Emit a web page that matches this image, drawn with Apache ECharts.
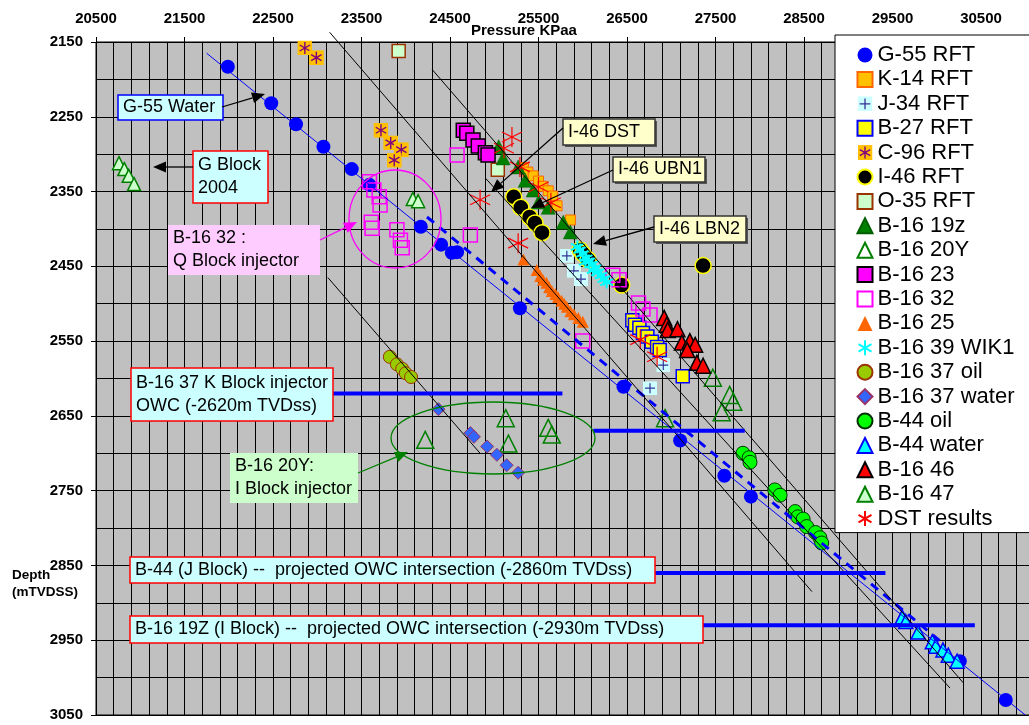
<!DOCTYPE html>
<html>
<head>
<meta charset="utf-8">
<script src="https://cdn.jsdelivr.net/npm/echarts@6/dist/echarts.min.js"></script>
<style>
  html, body { margin: 0; padding: 0; background: #ffffff; }
  #chart { width: 1029px; height: 725px; }
</style>
</head>
<body>
<div id="chart"></div>
<script>
const FONT = '"Liberation Sans", Arial, Helvetica, sans-serif';

// ---- axis tick labels ----
const pressureTickLabels = [20500, 21500, 22500, 23500, 24500, 25500, 26500, 27500, 28500, 29500, 30500];
const depthTickLabels = [2150, 2250, 2350, 2450, 2550, 2650, 2750, 2850, 2950, 3050];

// ---- pressure (KPaa) vs depth (mTVDSS) measurements ----
const g55Rft = [[21990,2183],[22480,2232],[22760,2260],[23070,2290],[23390,2320],[23590,2341],[24170,2397],[24400,2421],[24520,2432],[24580,2431],[25290,2506],[26460,2611],[27100,2683],[27600,2730],[27900,2758],[30260,2978],[30780,3030]];
const k14Rft = [[25330,2318],[25380,2324],[25440,2329],[25500,2336],[25550,2343],[25610,2349],[25660,2356],[25710,2369],[25860,2388]];
const j34Rft = [[25820,2436],[25900,2456],[25980,2467],[26910,2582],[26760,2613]];
const b27Rft = [[26560,2522],[26590,2528],[26640,2532],[26680,2539],[26730,2544],[26780,2551],[26840,2558],[26870,2562],[27130,2597]];
const c96Rft = [[22860,2158],[22990,2171],[23720,2268],[23830,2285],[23950,2294],[23870,2308]];
const i46Rft = [[25220,2357],[25300,2371],[25400,2384],[25460,2392],[25540,2405],[25970,2428],[26000,2433],[26060,2441],[26440,2475],[27360,2449]];
const o35Rft = [[23920,2162],[25040,2321]];
const b16_19z = [[25050,2290],[25100,2305],[25270,2317],[25350,2335],[25440,2348],[25500,2364],[25610,2371],[25780,2391],[25860,2404]];
const b16_20y = [[24220,2682],[25130,2653],[25160,2687],[25610,2666],[25650,2675],[27470,2599],[27660,2622],[27700,2631],[27570,2645],[26930,2653]];
const b16_23 = [[24650,2268],[24690,2272],[24760,2281],[24820,2289],[24900,2298],[24930,2301]];
const b16_32 = [[24580,2301],[23590,2337],[23640,2348],[23700,2357],[23710,2368],[23610,2391],[23620,2399],[23900,2401],[23940,2415],[23960,2425],[24730,2408],[26000,2550],[26340,2462],[26410,2468],[26630,2499],[26680,2507],[26760,2515]];
const b16_25 = [[25330,2441],[25480,2455],[25520,2463],[25550,2468],[25590,2472],[25620,2478],[25650,2483],[25690,2487],[25720,2491],[25760,2496],[25790,2500],[25820,2504],[25860,2510],[25900,2514],[25950,2519],[26000,2524]];
const b16_39Wik1 = [[25940,2424],[25970,2428],[26000,2433],[26040,2439],[26070,2443],[26110,2447],[26140,2452],[26170,2458],[26210,2462],[26240,2467],[26270,2471],[26030,2444],[26120,2455]];
const b16_37Oil = [[23820,2571],[23900,2581],[23960,2587],[24000,2593],[24060,2598]];
const b16_37Water = [[24370,2641],[24730,2673],[24770,2678],[24920,2691],[25030,2702],[25140,2716],[25270,2726]];
const b44Oil = [[27810,2700],[27880,2706],[27890,2712],[28170,2749],[28230,2756],[28400,2778],[28430,2785],[28490,2788],[28530,2798],[28630,2806],[28680,2813],[28700,2820]];
const b44Water = [[29610,2919],[29650,2925],[29790,2939],[29950,2952],[29990,2958],[30070,2963],[30130,2970],[30230,2978]];
const b16_46 = [[26920,2519],[26950,2528],[26960,2535],[27070,2534],[27120,2552],[27210,2550],[27270,2555],[27180,2562],[27290,2579],[27360,2583]];
const b16_47 = [[20760,2312],[20820,2320],[20870,2329],[20930,2340],[24080,2360],[24140,2363]];
const dstResults = [[25200,2277],[25110,2292],[25290,2317],[25500,2344],[25640,2365],[24840,2361],[25270,2419],[26650,2548],[26840,2571]];

// ---- gradient lines and contacts (start, end) ----
const g55WaterGradient = [[21750,2165],[31000,3050]];
const projectedGradient = [[24240,2384],[30090,2956]];
const gradientLineA = [[23140,2137],[28590,2885]];
const gradientLineB = [[24300,2187],[30300,3007]];
const gradientLineM = [[24900,2332],[30150,3014]];
const gradientLineC = [[23120,2465],[24840,2700]];
const owcKBlock = [[23140,2620],[25770,2620]];
const owcMid = [[26120,2670],[27830,2670]];
const owcJBlock = [[26820,2860],[29420,2860]];
const owcIBlock = [[27360,2930],[30430,2930]];

// ---- marker shapes ----
function svgSymbol(svg) {
  return 'image://data:image/svg+xml;charset=utf-8,' + encodeURIComponent(svg);
}
const STAR = 'path://M0,-10L0,10M-8.66,-5L8.66,5M-8.66,5L8.66,-5';
const J34_ICON = svgSymbol("<svg xmlns='http://www.w3.org/2000/svg' width='28' height='28'><rect width='28' height='28' fill='#ccffff'/><path d='M14 4V24M4 14H24' stroke='#333399' stroke-width='2.4'/></svg>");
const C96_ICON = svgSymbol("<svg xmlns='http://www.w3.org/2000/svg' width='30' height='30'><rect width='30' height='30' fill='#ffc000'/><path d='M15 3V27M4.6 9L25.4 21M4.6 21L25.4 9' stroke='#800080' stroke-width='2.8'/></svg>");

function scatter(name, data, symbol, size, color, border, borderWidth) {
  return {
    name, type: 'scatter', data, symbol, symbolSize: size,
    itemStyle: { color, borderColor: border || color, borderWidth: borderWidth || 0, opacity: 1 },
    emphasis: { disabled: true }, z: 3
  };
}
function segment(name, data, color, width, type, clip) {
  return {
    name, type: 'line', data, symbol: 'none', silent: true, clip: clip !== false,
    lineStyle: { color, width, type: type || 'solid' }, z: 4, animation: false
  };
}

const markerSeries = [
  scatter('G-55 RFT', g55Rft, 'circle', 14, '#0000ff'),
  scatter('K-14 RFT', k14Rft, 'rect', 10, '#ffc000', '#ff6600', 1),
  scatter('J-34 RFT', j34Rft, J34_ICON, 14, '#ccffff'),
  scatter('B-27 RFT', b27Rft, 'rect', 13, '#ffff00', '#0000ff', 1.5),
  scatter('C-96 RFT', c96Rft, C96_ICON, 15, '#ffc000'),
  scatter('I-46 RFT', i46Rft, 'circle', 16, '#000000', '#ffff00', 1.5),
  scatter('O-35 RFT', o35Rft, 'rect', 13, '#ccffcc', '#993300', 1.5),
  scatter('B-16 19z', b16_19z, 'triangle', 14, '#008000', '#006000', 0.5),
  scatter('B-16 20Y', b16_20y, 'triangle', 17, 'none', '#008000', 1.5),
  scatter('B-16 23', b16_23, 'rect', 14, '#ff00ff', '#000000', 1.5),
  scatter('B-16 32', b16_32, 'rect', 14, 'none', '#ff00ff', 1.5),
  scatter('B-16 25', b16_25, 'triangle', 12, '#ff6600'),
  scatter('B-16 39 WIK1', b16_39Wik1, STAR, 13, '#00ffff', '#00ffff', 2),
  scatter('B-16 37 oil', b16_37Oil, 'circle', 13, '#99cc00', '#993300', 1),
  scatter('B-16 37 water', b16_37Water, 'diamond', 13, '#3366ff', '#993366', 1),
  scatter('B-44 oil', b44Oil, 'circle', 14, '#00ff00', '#003300', 1),
  scatter('B-44 water', b44Water, 'triangle', 14, '#00ffff', '#0000ff', 1.5),
  scatter('B-16 46', b16_46, 'triangle', 15, '#ff0000', '#000000', 1.5),
  scatter('B-16 47', b16_47, 'triangle', 13, '#ccffcc', '#008000', 1.5),
  scatter('DST results', dstResults, STAR, 20, '#ff0000', '#ff0000', 1.2)
];

const lineSeries = [
  segment('G-55 water gradient', g55WaterGradient, '#0000ff', 1),
  segment('Projected gradient', projectedGradient, '#0000ff', 3, [9, 7]),
  segment('Gradient A', gradientLineA, '#000000', 1, 'solid', false),
  segment('Gradient B', gradientLineB, '#000000', 1),
  segment('Gradient M', gradientLineM, '#000000', 1),
  segment('Gradient C', gradientLineC, '#000000', 1),
  segment('OWC K Block', owcKBlock, '#0000ff', 4),
  segment('OWC', owcMid, '#0000ff', 4),
  segment('OWC J Block', owcJBlock, '#0000ff', 4),
  segment('OWC I Block', owcIBlock, '#0000ff', 4)
];

// ---- annotation helpers ----
function textBox(x, y, w, h, fill, stroke, lines, shadow) {
  const lh = 23;
  const els = [];
  if (shadow) {
    els.push({ type: 'rect', z: 50, shape: { x: x + 2, y: y + 2, width: w, height: h }, style: { fill: '#555555' } });
  }
  els.push({ type: 'rect', z: 51, shape: { x, y, width: w, height: h },
    style: { fill, stroke: stroke || 'none', lineWidth: 1.5 } });
  els.push({ type: 'text', z: 52, x: x + 5, y: y + (h - lines.length * lh) / 2,
    style: { text: lines.join('\n'), font: '18px ' + FONT, fill: '#000', lineHeight: lh, verticalAlign: 'top', align: 'left' } });
  return els;
}
function arrow(x1, y1, x2, y2, color) {
  const ang = Math.atan2(y2 - y1, x2 - x1), L = 13, W = 5.5;
  const bx = x2 - L * Math.cos(ang), by = y2 - L * Math.sin(ang);
  const px = -Math.sin(ang) * W, py = Math.cos(ang) * W;
  return [
    { type: 'line', z: 53, shape: { x1, y1, x2: bx, y2: by }, style: { stroke: color, lineWidth: 1.3 } },
    { type: 'polygon', z: 53, shape: { points: [[x2, y2], [bx + px, by + py], [bx - px, by - py]] }, style: { fill: color } }
  ];
}
function ring(cx, cy, rx, ry, color) {
  return { type: 'ellipse', z: 49, shape: { cx, cy, rx, ry }, style: { fill: 'none', stroke: color, lineWidth: 1.3 } };
}

const graphics = [].concat(
  ring(395, 219, 46, 49, '#ff00ff'),
  ring(493, 438, 102, 36, '#008000'),
  textBox(118, 95, 105, 25, '#ccffff', '#0000ff', ['G-55 Water']),
  arrow(222, 107, 265, 94, '#000'),
  textBox(193, 151, 75, 52, '#ccffff', '#ff0000', ['G Block', '2004']),
  arrow(193, 167, 153, 167, '#000'),
  textBox(168, 225, 152, 50, '#ffccff', null, ['B-16 32 :', 'Q Block injector']),
  arrow(320, 240, 357, 222, '#ff00ff'),
  textBox(563, 119, 92, 26, '#ffffcc', '#333333', ['I-46 DST'], true),
  arrow(563, 128, 491, 192, '#000'),
  textBox(613, 157, 92, 25, '#ffffcc', '#333333', ['I-46 UBN1'], true),
  arrow(613, 170, 531, 208, '#000'),
  textBox(654, 216, 92, 26, '#ffffcc', '#333333', ['I-46 LBN2'], true),
  arrow(654, 227, 593, 244, '#000'),
  textBox(131, 368, 202, 53, '#ccffff', '#ff0000', ['B-16 37 K Block injector', 'OWC (-2620m TVDss)']),
  textBox(230, 453, 128, 50, '#ccffcc', null, ['B-16 20Y:', 'I Block injector']),
  arrow(358, 473, 408, 452, '#008000'),
  textBox(130, 557, 525, 26, '#ccffff', '#ff0000', ['B-44 (J Block) --  projected OWC intersection (-2860m TVDss)']),
  textBox(130, 616, 573, 27, '#ccffff', '#ff0000', ['B-16 19Z (I Block) --  projected OWC intersection (-2930m TVDss)']),
  [
    { type: 'text', z: 60, x: 471, y: 31, style: { text: 'Pressure KPaa', font: 'bold 15px ' + FONT, fill: '#000', verticalAlign: 'middle' } },
    { type: 'text', z: 60, x: 12, y: 567, style: { text: 'Depth\n(mTVDSS)', font: 'bold 13.5px ' + FONT, fill: '#000', lineHeight: 17, verticalAlign: 'top' } }
  ]
);

const chart = echarts.init(document.getElementById('chart'), null, { renderer: 'canvas' });
chart.setOption({
  animation: false,
  backgroundColor: '#ffffff',
  grid: {
    left: 96, right: -40.5, top: 42, bottom: 10,
    show: true, backgroundColor: '#c0c0c0', borderColor: '#000', borderWidth: 1,
    containLabel: false, outerBoundsMode: 'none'
  },
  xAxis: {
    type: 'value', position: 'top', min: 20500, max: 31500, interval: 1000,
    axisLine: { show: true, lineStyle: { color: '#000', width: 1 } },
    axisTick: { show: true, inside: false, length: 5, lineStyle: { color: '#000' } },
    axisLabel: {
      margin: 16, fontSize: 15, fontWeight: 'bold', fontFamily: FONT, color: '#000',
      formatter: v => pressureTickLabels.includes(v) ? String(v) : ''
    },
    splitLine: { show: true, lineStyle: { color: '#000', width: 1 } },
    minorTick: { show: false, splitNumber: 5 },
    minorSplitLine: { show: true, lineStyle: { color: '#000', width: 1 } }
  },
  yAxis: {
    type: 'value', inverse: true, min: 2150, max: 3050, interval: 100,
    axisLine: { show: true, lineStyle: { color: '#000', width: 1 } },
    axisTick: { show: true, inside: false, length: 5, lineStyle: { color: '#000' } },
    axisLabel: {
      margin: 13, fontSize: 15, fontWeight: 'bold', fontFamily: FONT, color: '#000',
      formatter: v => depthTickLabels.includes(v) ? String(v) : ''
    },
    splitLine: { show: true, lineStyle: { color: '#000', width: 1 } },
    minorTick: { show: false, splitNumber: 2 },
    minorSplitLine: { show: true, lineStyle: { color: '#000', width: 1 } }
  },
  legend: {
    orient: 'vertical', left: 835, top: 35,
    data: markerSeries.map(s => s.name),
    backgroundColor: '#ffffff', borderColor: '#000', borderWidth: 1,
    padding: [9, 40, 3, 20], itemGap: 2.4, itemWidth: 15, itemHeight: 15,
    textStyle: { fontSize: 22, fontFamily: FONT, color: '#000', lineHeight: 22 },
    selectedMode: false, z: 20
  },
  tooltip: { show: false },
  graphic: graphics,
  series: markerSeries.concat(lineSeries)
});
</script>
</body>
</html>
